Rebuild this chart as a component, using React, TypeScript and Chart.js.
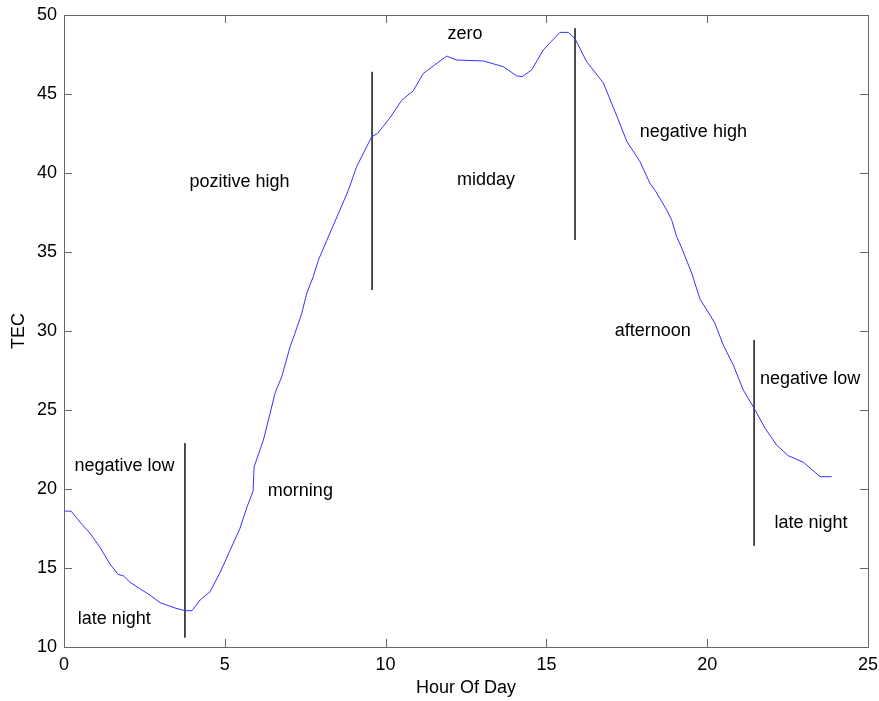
import React, { useEffect, useRef } from "react";
import { Chart, registerables } from "chart.js";

Chart.register(...registerables);

const hours = [
  0.0, 0.22, 0.5, 0.81, 1.12, 1.43, 1.68, 1.85, 2.05, 2.35, 2.67, 2.99, 3.45, 3.76, 3.98,
  4.23, 4.54, 4.85, 5.16, 5.47, 5.69, 5.88, 5.91, 6.2, 6.41, 6.56, 6.77, 7.03, 7.18, 7.39,
  7.55, 7.75, 7.91, 8.27, 8.58, 8.84, 9.1, 9.36, 9.57, 9.75, 10.14, 10.5, 10.86, 11.17,
  11.5, 11.9, 12.21, 13.04, 13.66, 14.08, 14.25, 14.54, 14.9, 15.42, 15.68, 15.89, 16.25,
  16.77, 17.19, 17.5, 17.91, 18.22, 18.38, 18.74, 18.9, 19.05, 19.21, 19.52, 19.78, 20.09,
  20.24, 20.5, 20.81, 21.12, 21.46, 21.8, 22.16, 22.52, 22.99, 23.51, 23.87,
];
const tec = [
  18.6, 18.6, 17.9, 17.2, 16.3, 15.25, 14.6, 14.5, 14.1, 13.7, 13.29, 12.8, 12.47, 12.3, 12.3,
  12.97, 13.5, 14.7, 16.1, 17.5, 18.86, 19.87, 21.4, 23.1, 24.8, 26.06, 27.1, 29.0, 29.85, 31.1,
  32.4, 33.44, 34.49, 36.2, 37.66, 38.9, 40.4, 41.46, 42.3, 42.5, 43.5, 44.6, 45.2, 46.3,
  46.8, 47.4, 47.15, 47.09, 46.73, 46.14, 46.1, 46.52, 47.78, 48.9, 48.9, 48.5, 47.05,
  45.7, 43.6, 42.0, 40.72, 39.35, 38.9, 37.66, 37.0, 35.97, 35.24, 33.65, 32.0, 31.0,
  30.49, 29.11, 27.85, 26.27, 25.11, 23.84, 22.78, 22.11, 21.69, 20.78, 20.78,
];

// vertical separator lines: x position, top value, bottom value
const dividerX = [3.76, 9.58, 15.89, 21.46];
const dividerTop = [22.9, 46.4, 49.16, 29.43];
const dividerBottom = [10.6, 32.6, 35.76, 16.41];

const labelTexts = [
  "pozitive high", "zero", "midday", "negative high", "afternoon",
  "negative low", "late night", "negative low", "late night", "morning",
];
const labelX = [5.46, 12.47, 13.12, 19.57, 18.31, 23.2, 23.23, 1.88, 1.56, 7.35];
const labelY = [39.43, 48.8, 39.56, 42.6, 30.0, 26.93, 17.85, 21.46, 11.77, 19.87];

const xTicks = [0, 5, 10, 15, 20, 25];
const yTicks = [10, 15, 20, 25, 30, 35, 40, 45, 50];

const FONT = "'Liberation Sans', Arial, sans-serif";
const AXIS_COLOR = "#666666";

const framePlugin = {
  id: "frame",
  afterDraw(chart: any) {
    const { ctx, chartArea } = chart;
    const xs = chart.scales.x;
    const ys = chart.scales.y;
    const { left, right, top, bottom } = chartArea;
    ctx.save();
    ctx.strokeStyle = AXIS_COLOR;
    ctx.lineWidth = 1;
    ctx.beginPath();
    ctx.rect(Math.round(left) + 0.5, Math.round(top) + 0.5, Math.round(right - left), Math.round(bottom - top));
    const tl = 8;
    xTicks.forEach((v) => {
      const px = Math.round(xs.getPixelForValue(v)) + 0.5;
      ctx.moveTo(px, bottom);
      ctx.lineTo(px, bottom - tl);
      ctx.moveTo(px, top);
      ctx.lineTo(px, top + tl);
    });
    yTicks.forEach((v) => {
      const py = Math.round(ys.getPixelForValue(v)) + 0.5;
      ctx.moveTo(left, py);
      ctx.lineTo(left + tl, py);
      ctx.moveTo(right, py);
      ctx.lineTo(right - tl, py);
    });
    ctx.stroke();

    ctx.fillStyle = "#000";
    ctx.font = `18px ${FONT}`;
    ctx.textAlign = "center";
    ctx.textBaseline = "middle";
    labelTexts.forEach((t, i) => {
      ctx.fillText(t, xs.getPixelForValue(labelX[i]), ys.getPixelForValue(labelY[i]));
    });
    ctx.restore();
  },
};

export default function App() {
  const ref = useRef<HTMLCanvasElement>(null);
  useEffect(() => {
    if (!ref.current) return;
    const dividers = dividerX.map((x, i) => ({
      data: [
        { x, y: dividerTop[i] },
        { x, y: dividerBottom[i] },
      ],
      borderColor: "#333333",
      borderWidth: 1,
      pointRadius: 0,
    }));
    const chart = new Chart(ref.current, {
      type: "line",
      data: {
        datasets: [
          {
            data: hours.map((h, i) => ({ x: h, y: tec[i] })),
            borderColor: "#3333ff",
            borderWidth: 1,
            pointRadius: 0,
            tension: 0,
          },
          ...dividers,
        ],
      },
      options: {
        responsive: false,
        animation: false,
        events: [],
        layout: { padding: { top: 15, right: 11, left: 0, bottom: 0 } },
        plugins: { legend: { display: false }, tooltip: { enabled: false } },
        scales: {
          x: {
            type: "linear",
            min: 0,
            max: 25,
            offset: false,
            grid: { display: false, drawTicks: false },
            border: { display: false },
            ticks: {
              stepSize: 5,
              padding: 7,
              color: "#000",
              font: { family: FONT, size: 18 },
              maxRotation: 0,
            },
            title: {
              display: true,
              text: "Hour Of Day",
              color: "#000",
              font: { family: FONT, size: 18 },
              padding: { top: 0, bottom: 2 },
            },
            afterFit: (s: any) => {
              s.height = 54;
              s.paddingLeft = 0;
              s.paddingRight = 0;
            },
          },
          y: {
            type: "linear",
            min: 10,
            max: 50,
            offset: false,
            grid: { display: false, drawTicks: false },
            border: { display: false },
            ticks: {
              stepSize: 5,
              padding: 7,
              color: "#000",
              font: { family: FONT, size: 18 },
            },
            title: {
              display: true,
              text: "TEC",
              color: "#000",
              font: { family: FONT, size: 18 },
              padding: { top: 8, bottom: 0 },
            },
            afterFit: (s: any) => {
              s.width = 64;
              s.paddingTop = 0;
              s.paddingBottom = 0;
            },
          },
        },
      },
      plugins: [framePlugin],
    });
    return () => chart.destroy();
  }, []);
  return (
    <div style={{ position: "fixed", left: 0, top: 0, width: 879, height: 701, background: "#fff" }}>
      <canvas ref={ref} width={879} height={701} style={{ display: "block" }} />
    </div>
  );
}
